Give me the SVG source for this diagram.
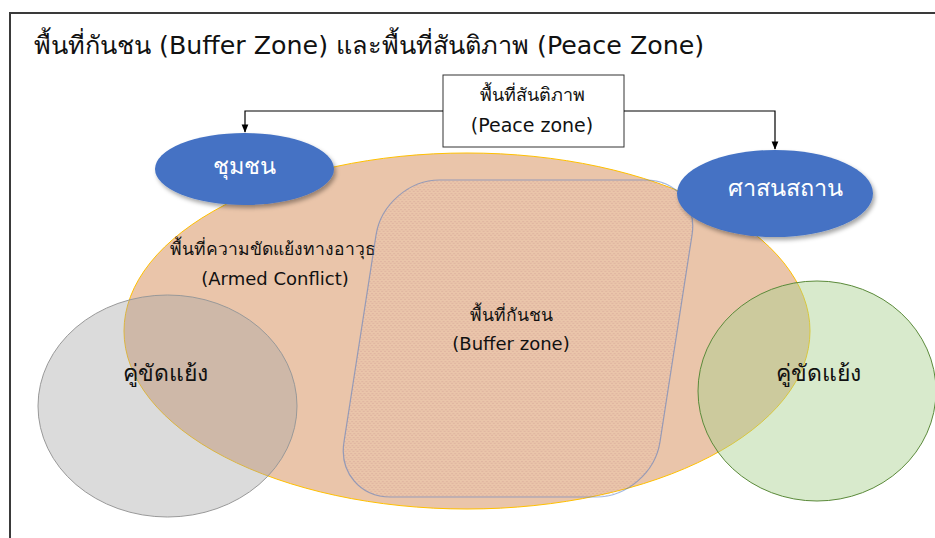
<svg xmlns="http://www.w3.org/2000/svg" width="935" height="538" viewBox="0 0 935 538">
<defs>
<pattern id="dots" width="4" height="4" patternUnits="userSpaceOnUse">
<circle cx="1" cy="1" r="0.6" fill="#B87880" fill-opacity="0.5"/>
<circle cx="3" cy="3" r="0.6" fill="#B87880" fill-opacity="0.5"/>
</pattern>
<marker id="arr" viewBox="0 0 10 10" refX="9" refY="5" markerWidth="7" markerHeight="7" orient="auto">
<path d="M0,1 L10,5 L0,9 z" fill="#000"/>
</marker>
<filter id="sh" x="-20%" y="-20%" width="140%" height="150%">
<feDropShadow dx="2" dy="3" stdDeviation="2" flood-color="#000" flood-opacity="0.35"/>
</filter>
</defs>
<style>
text{font-family:"DejaVu Sans","Noto Sans",sans-serif;}
.title{font-size:25.3px;fill:#111;}
.th{font-size:17.5px;fill:#111;text-anchor:middle;}
.en{font-size:18px;fill:#111;text-anchor:middle;}
.big{font-size:23px;fill:#111;text-anchor:middle;}
.wh{font-size:23.5px;fill:#fff;text-anchor:middle;}
.conn{fill:none;stroke:#000;stroke-width:1.2;}
</style>
<rect x="0" y="0" width="935" height="538" fill="#fff"/>
<rect x="10" y="13" width="940" height="540" fill="none" stroke="#3a3a3a" stroke-width="2"/>
<text class="title" x="34" y="54">พื้นที่กันชน (Buffer Zone) และพื้นที่สันติภาพ (Peace Zone)</text>

<g id="armed-conflict">
<ellipse cx="467" cy="331" rx="343" ry="178" fill="#EAC5AA" stroke="#FFC000" stroke-width="1"/>
<text class="th" x="273" y="255">พื้นที่ความขัดแย้งทางอาวุธ</text>
<text class="en" x="275" y="285">(Armed Conflict)</text>
</g>

<g id="buffer-zone">
<g transform="translate(518,338.5) skewX(-8.8)">
<rect x="-158" y="-158.5" width="316" height="317" rx="55" ry="55" fill="url(#dots)" stroke="#4472C4" stroke-opacity="0.5" stroke-width="1.2"/>
</g>
<text class="th" x="511" y="321">พื้นที่กันชน</text>
<text class="en" x="511" y="350">(Buffer zone)</text>
</g>

<g id="party-left">
<ellipse cx="167.5" cy="406" rx="129.5" ry="111" fill="#A6A6A6" fill-opacity="0.4" stroke="#999" stroke-width="1"/>
<text class="big" x="165" y="381">คู่ขัดแย้ง</text>
</g>

<g id="party-right">
<ellipse cx="817" cy="391" rx="119" ry="110" fill="#A9D18E" fill-opacity="0.45" stroke="#5B8A3A" stroke-width="1"/>
<text class="big" x="818" y="381">คู่ขัดแย้ง</text>
</g>

<g id="community">
<ellipse cx="244.5" cy="169" rx="89.5" ry="36" fill="#4472C4" filter="url(#sh)"/>
<text class="wh" x="244.5" y="174">ชุมชน</text>
</g>

<g id="religious-site">
<ellipse cx="775" cy="193.5" rx="98" ry="43.5" fill="#4472C4" filter="url(#sh)"/>
<text class="wh" x="785" y="196">ศาสนสถาน</text>
</g>

<g id="peace-zone">
<rect x="443" y="75" width="181" height="72" fill="#fff" stroke="#333" stroke-width="1"/>
<text class="th" x="532" y="101" style="font-size:18px">พื้นที่สันติภาพ</text>
<text class="en" x="532" y="132" style="font-size:19px">(Peace zone)</text>
</g>

<g id="connectors">
<path class="conn" d="M443,111 H245 V132" marker-end="url(#arr)"/>
<path class="conn" d="M624,111 H775 V149" marker-end="url(#arr)"/>
</g>
</svg>
